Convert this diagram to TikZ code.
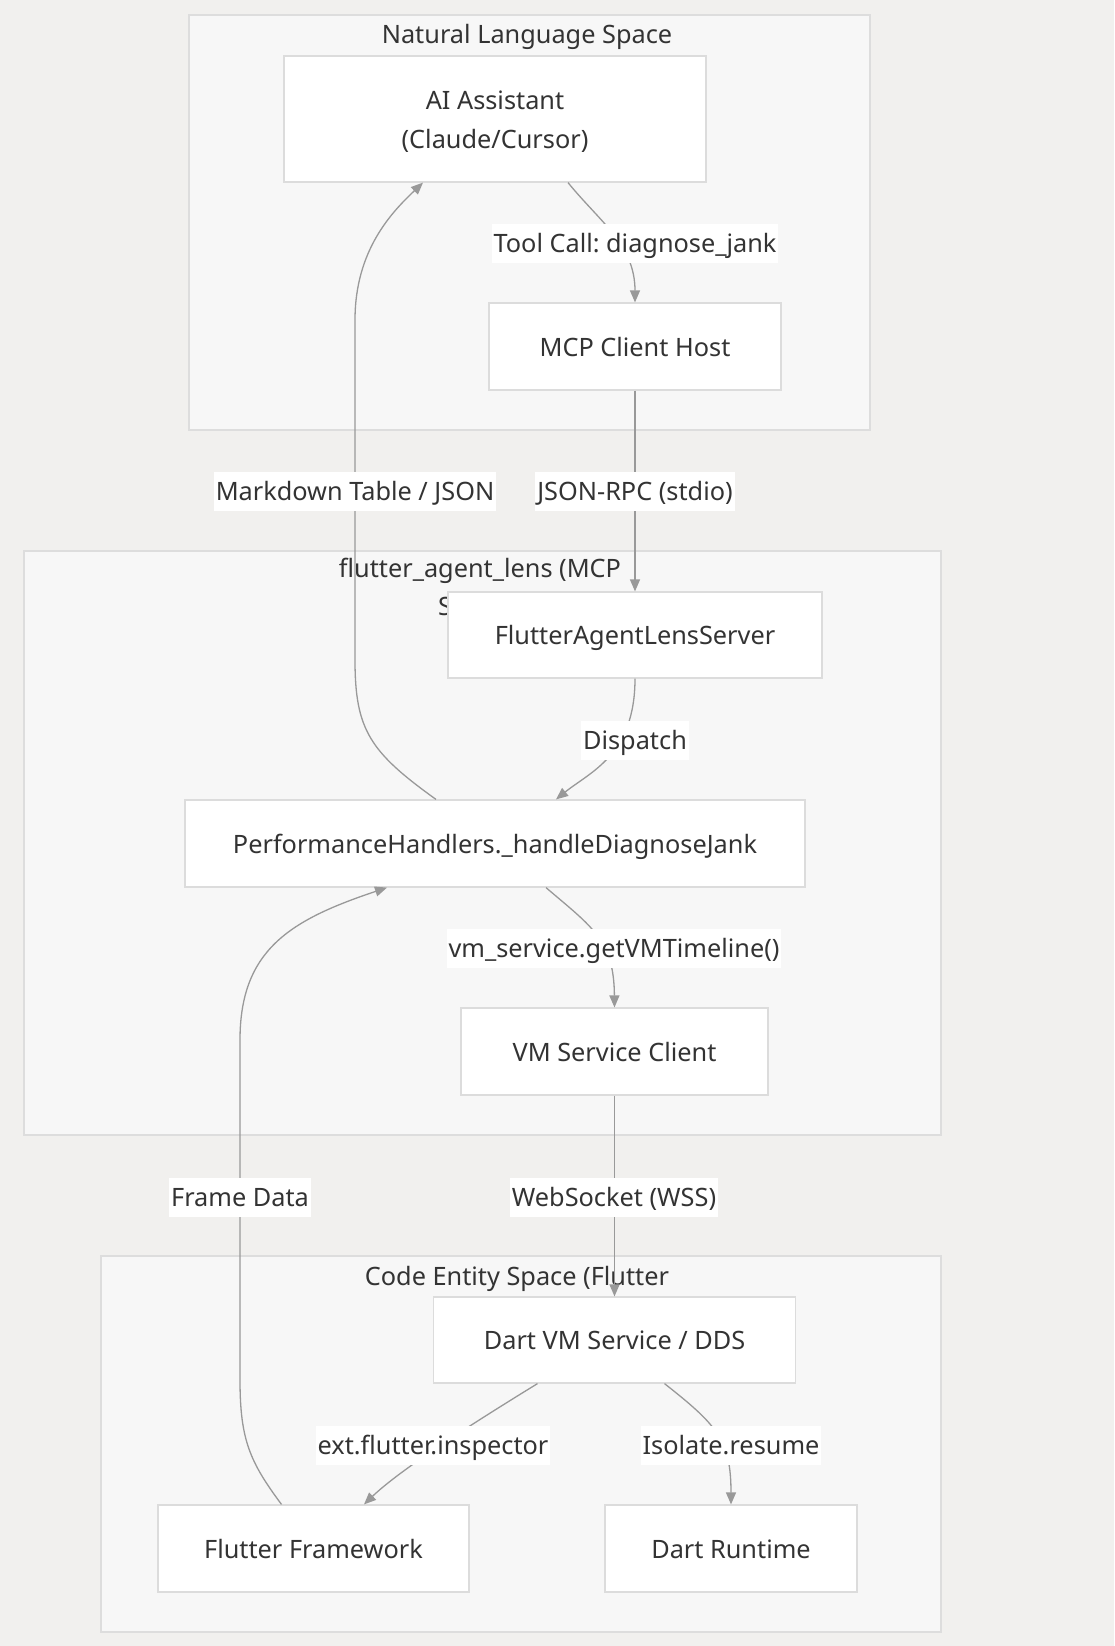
\documentclass[tikz,border=0pt]{standalone}
\usepackage{fontspec}
\setmainfont{Noto Sans}
\usetikzlibrary{arrows.meta}
\frenchspacing
\definecolor{pagebg}{HTML}{F1F0EE}
\definecolor{clfill}{HTML}{F7F7F7}
\definecolor{cldraw}{HTML}{DDDDDD}
\definecolor{nddraw}{HTML}{DCDCDC}
\definecolor{edgecol}{HTML}{999999}
\definecolor{txt}{HTML}{333333}
\tikzset{
  cluster/.style={fill=clfill, draw=cldraw, line width=1.2pt},
  cltitle/.style={text=txt, font=\fontsize{25.3}{38}\selectfont, align=center, inner sep=0pt},
  box/.style={fill=white, draw=nddraw, line width=1.2pt, text=txt, font=\fontsize{25.3}{39}\selectfont, align=center, inner sep=0pt, text height=19pt, text depth=0pt},
  elabel/.style={fill=white, text=txt, font=\fontsize{25.3}{30}\selectfont, inner xsep=2pt, inner ysep=0pt, text height=19pt, text depth=0pt, minimum height=39pt},
  link/.style={draw=edgecol, line width=1.3pt, -{Triangle[length=12pt,width=10pt]}},
  plainlink/.style={draw=edgecol, line width=1.3pt}
}
\begin{document}
\begin{tikzpicture}[x=1pt,y=-1pt]
\fill[pagebg] (0,0) rectangle (1114,1646);
\useasboundingbox (0,0) rectangle (1114,1646);

% clusters
\draw[cluster] (189,15) rectangle (870,430);
\node[cltitle] (t1) at (527,37) {Natural Language Space};
\draw[cluster] (24,551) rectangle (941,1135);
\node[cltitle, anchor=north] (t2) at (480,558) {flutter\_agent\_lens (MCP\\Server)};
\draw[cluster] (101,1256) rectangle (941,1632);
\node[cltitle] (t3) at (517,1279) {Code Entity Space (Flutter};

% nodes
\node[box, minimum width=422pt, minimum height=126pt, text height=58pt, text depth=0pt] (ai) at (495,119) {AI Assistant\\(Claude/Cursor)};
\node[box, minimum width=292pt, minimum height=87pt] (mcp) at (635,346.5) {MCP Client Host};
\node[box, minimum width=374pt, minimum height=86pt] (fals) at (635,635) {FlutterAgentLensServer};
\node[box, minimum width=620pt, minimum height=87pt] (ph) at (495,843.5) {PerformanceHandlers.\_handleDiagnoseJank};
\node[box, minimum width=307pt, minimum height=87pt] (vmc) at (614.5,1051.5) {VM Service Client};
\node[box, minimum width=362pt, minimum height=86pt] (dvm) at (614.5,1340) {Dart VM Service / DDS};
\node[box, minimum width=311pt, minimum height=87pt] (ff) at (313.5,1548.5) {Flutter Framework};
\node[box, minimum width=252pt, minimum height=87pt] (dr) at (731,1548.5) {Dart Runtime};

% connectors
\draw[link] ([xshift=73pt]ai.south) .. controls (600,222) and (635,245) .. (mcp.north);
\draw[link] (mcp.south) -- (fals.north);
\draw[link] (fals.south) .. controls (635,755) and (590,772) .. ([xshift=61pt]ph.north);
\draw[link] ([xshift=-59pt]ph.north) .. controls (370,752) and (355,730) .. (355,660) -- (355,320) .. controls (355,250) and (392,212) .. ([xshift=-72pt]ai.south);
\draw[link] ([xshift=51pt]ph.south) .. controls (592,927) and (614,940) .. (vmc.north);
\draw[link] (vmc.south) -- (dvm.north);
\draw[link] ([xshift=-77pt]dvm.south) .. controls (470,1425) and (400,1470) .. ([xshift=50.5pt]ff.north);
\draw[link] ([xshift=50pt]dvm.south) .. controls (717,1425) and (731,1440) .. (dr.north);
\draw[link] ([xshift=-32pt]ff.north) .. controls (250,1462) and (240,1440) .. (240,1380) -- (240,1040) .. controls (240,950) and (290,920) .. ([xshift=-108pt]ph.south);

% edge labels
\node[elabel] (l1) at (635,243) {Tool Call: diagnose\_jank};
\node[elabel] (l2) at (635,491) {JSON-RPC (stdio)};
\node[elabel] (l3) at (355,491) {Markdown Table / JSON};
\node[elabel] (l4) at (635,740) {Dispatch};
\node[elabel] (l5) at (614,948) {vm\_service.getVMTimeline()};
\node[elabel] (l6) at (240,1197) {Frame Data};
\node[elabel] (l7) at (614,1197) {WebSocket (WSS)};
\node[elabel] (l8) at (433,1445) {ext.flutter.inspector};
\node[elabel] (l9) at (731,1445) {Isolate.resume};
\end{tikzpicture}
\end{document}
